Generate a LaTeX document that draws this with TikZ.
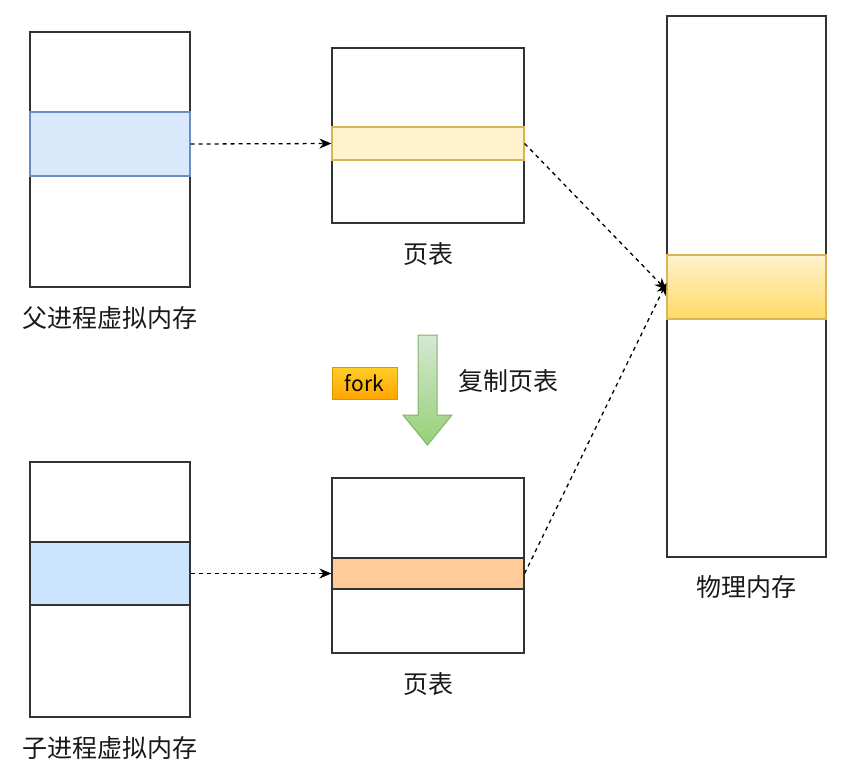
\documentclass[tikz,border=0pt]{standalone}
\usepackage{fontspec}
\setmainfont{Noto Sans CJK SC}
\usepackage{tikz}
\usetikzlibrary{arrows.meta, positioning}
\definecolor{linegray}{RGB}{51, 51, 51}
\definecolor{vmblue}{RGB}{218, 232, 252}
\definecolor{vmblueline}{RGB}{108, 142, 191}
\definecolor{childblue}{RGB}{204, 229, 255}
\definecolor{ptyellow}{RGB}{255, 242, 204}
\definecolor{ptyellowline}{RGB}{214, 182, 86}
\definecolor{ptorange}{RGB}{255, 204, 153}
\definecolor{physgold}{RGB}{255, 217, 102}
\definecolor{forkgreenA}{RGB}{213, 232, 212}
\definecolor{forkgreenB}{RGB}{151, 208, 119}
\definecolor{forkgreenline}{RGB}{130, 179, 102}
\definecolor{forkorange}{RGB}{255, 205, 40}
\definecolor{forkorangeB}{RGB}{255, 165, 0}
\definecolor{forkorangeline}{RGB}{215, 155, 0}

\tikzset{
  membox/.style={draw=linegray, line width=1.5pt, fill=white, inner sep=0pt},
  memband/.style={draw=#1, line width=1.2pt, inner sep=0pt},
  caption/.style={font=\fontsize{25}{28}\selectfont, text=black!90},
  maplink/.style={dash pattern=on 4pt off 4pt, line width=1.3pt, -{Stealth[length=12pt, width=10pt]}}
}

\begin{document}
\begin{tikzpicture}[x=1pt, y=-1pt]
  \useasboundingbox (0,0) rectangle (849,782);

  % parent process
  \node[membox, minimum width=160pt, minimum height=255pt] (parentvm) at (110,159.5) {};
  \node[memband=vmblueline, fill=vmblue, minimum width=160pt, minimum height=64pt] (parentband) at (110,144) {};
  \node[caption] (parentlabel) at (110,318) {父进程虚拟内存};

  % parent page table
  \node[membox, minimum width=192pt, minimum height=175pt] (parentpt) at (428,135.5) {};
  \node[memband=ptyellowline, fill=ptyellow, minimum width=192pt, minimum height=33pt] (parentptband) at (428,143.5) {};
  \node[caption] (parentptlabel) at (428,254) {页表};

  % physical memory
  \node[membox, minimum width=159pt, minimum height=541pt] (phys) at (746.5,286.5) {};
  \node[memband=ptyellowline, top color=ptyellow, bottom color=physgold, minimum width=159pt, minimum height=64pt] (physband) at (746.5,287) {};
  \node[caption] (physlabel) at (746.5,587) {物理内存};

  % fork
  \draw[draw=forkgreenline, line width=1pt, top color=forkgreenA, bottom color=forkgreenB]
    (418,335) -- (437,335) -- (437,415) -- (452,415) -- (427.5,445) -- (403,415) -- (418,415) -- cycle;
  \node[draw=forkorangeline, top color=forkorange, bottom color=forkorangeB, line width=1pt,
        minimum width=65pt, minimum height=32pt, inner sep=0pt,
        font=\fontsize{21}{24}\selectfont] (forklabel) at (364.5,383) {fork};
  \node[caption] (copylabel) at (508,381) {复制页表};

  % child process
  \node[membox, minimum width=160pt, minimum height=255pt] (childvm) at (110,589.5) {};
  \node[memband=linegray, fill=childblue, minimum width=160pt, minimum height=63pt] (childband) at (110,573.5) {};
  \node[caption] (childlabel) at (110,748) {子进程虚拟内存};

  % child page table
  \node[membox, minimum width=192pt, minimum height=175pt] (childpt) at (428,565.5) {};
  \node[memband=linegray, fill=ptorange, minimum width=192pt, minimum height=31pt] (childptband) at (428,573.5) {};
  \node[caption] (childptlabel) at (428,684) {页表};

  % mappings
  \draw[maplink] (parentband.east) -- (parentptband.west);
  \draw[maplink] (parentptband.east) -- ([yshift=-3pt]physband.west);
  \draw[maplink] (childband.east) -- (childptband.west);
  \draw[maplink] (childptband.east) -- ([yshift=4pt]physband.west);
\end{tikzpicture}
\end{document}
